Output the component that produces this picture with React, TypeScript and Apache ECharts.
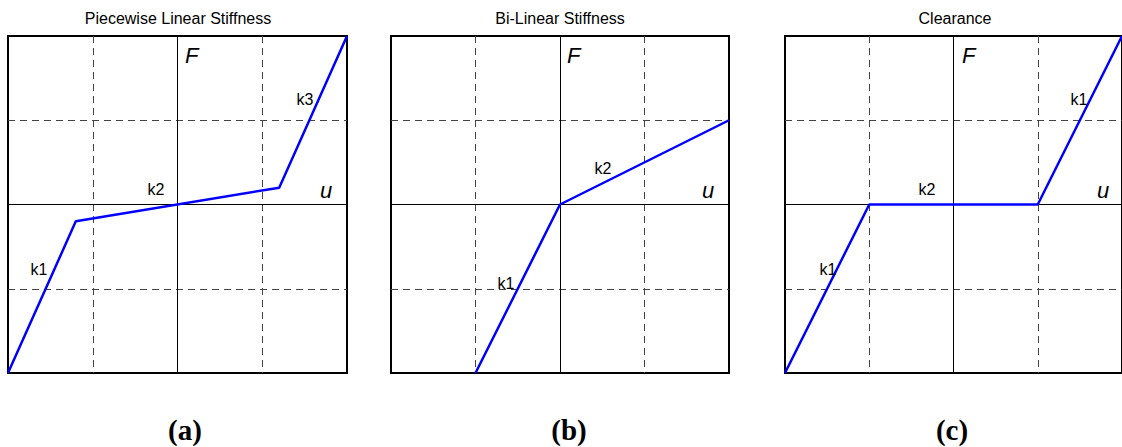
import React, { useEffect, useRef } from "react";
import * as echarts from "echarts";

// Force–displacement characteristics (normalised units, -2..2 on both axes)
const panelTitles = ["Piecewise Linear Stiffness", "Bi-Linear Stiffness", "Clearance"];
const panelTags = ["(a)", "(b)", "(c)"];

const uPiecewise = [-2, -1.2, 1.2, 2];
const fPiecewise = [-2, -0.2, 0.2, 2];

const uBilinear = [-1, 0, 2];
const fBilinear = [-2, 0, 1];

const uClearance = [-2, -1, 1, 2];
const fClearance = [-2, 0, 0, 2];

const axisTicks = [-2, -1, 0, 1, 2];

const SANS = "'Liberation Sans', Arial, sans-serif";
const SERIF = "'Liberation Serif', 'Times New Roman', serif";

const grids = [
  { left: 8, top: 36, width: 339, height: 337 },
  { left: 391, top: 36, width: 338, height: 337 },
  { left: 785, top: 36, width: 339, height: 337 },
];

function pairs(u: number[], f: number[]) {
  return u.map((x, i) => [x, f[i]]);
}

export default function App() {
  const ref = useRef<HTMLDivElement>(null);

  useEffect(() => {
    if (!ref.current) return;
    const chart = echarts.init(ref.current, null, { renderer: "svg" });

    const dashColors = axisTicks.map((t) =>
      Math.abs(t) === 2 || t === 0 ? "rgba(0,0,0,0)" : "#444"
    );

    const makeAxis = (gridIndex: number) => ({
      type: "value" as const,
      gridIndex,
      min: axisTicks[0],
      max: axisTicks[axisTicks.length - 1],
      interval: 1,
      axisLine: { show: true, onZero: true, lineStyle: { color: "#000", width: 1 } },
      axisTick: { show: false },
      axisLabel: { show: false },
      splitLine: {
        show: true,
        lineStyle: { color: dashColors, type: [7, 5], width: 1 },
      },
    });

    const series = [
      pairs(uPiecewise, fPiecewise),
      pairs(uBilinear, fBilinear),
      pairs(uClearance, fClearance),
    ].map((data, i) => ({
      type: "line" as const,
      xAxisIndex: i,
      yAxisIndex: i,
      data,
      symbol: "none",
      lineStyle: { color: "#0000ff", width: 2.5 },
      clip: true,
      z: 5,
    }));

    const text = (
      x: number,
      y: number,
      str: string,
      opts: { size?: number; italic?: boolean; bold?: boolean; family?: string; align?: string } = {}
    ) => ({
      type: "text" as const,
      x,
      y,
      z: 10,
      style: {
        text: str,
        fill: "#000",
        fontSize: opts.size ?? 16,
        fontStyle: opts.italic ? "italic" : "normal",
        fontWeight: opts.bold ? "bold" : "normal",
        fontFamily: opts.family ?? SANS,
        textAlign: opts.align ?? "center",
        textVerticalAlign: "middle",
      },
    });

    const centers = [178, 560, 955];
    const rights = [347, 729, 1124];
    const tagX = [185, 569, 952];

    const graphics: any[] = [];
    centers.forEach((cx, i) => {
      graphics.push(text(cx, 18, panelTitles[i], { size: 16 }));
      graphics.push(text(cx + 7, 55, "F", { size: 22, italic: true, align: "left" }));
      graphics.push(text(rights[i] - 21, 190, "u", { size: 22, italic: true }));
      graphics.push(text(tagX[i], 430, panelTags[i], { size: 29, bold: true, family: SERIF }));
    });
    // stiffness segment labels
    graphics.push(text(39, 269, "k1"));
    graphics.push(text(156, 189, "k2"));
    graphics.push(text(305, 99, "k3"));
    graphics.push(text(506, 283, "k1"));
    graphics.push(text(603, 168, "k2"));
    graphics.push(text(828, 269, "k1"));
    graphics.push(text(927, 189, "k2"));
    graphics.push(text(1079, 99, "k1"));

    chart.setOption({
      animation: false,
      backgroundColor: "#fff",
      grid: grids.map((g) => ({
        ...g,
        show: true,
        borderColor: "#000",
        borderWidth: 2,
        backgroundColor: "transparent",
      })),
      xAxis: grids.map((_, i) => makeAxis(i)),
      yAxis: grids.map((_, i) => makeAxis(i)),
      series,
      graphic: graphics,
    });

    return () => chart.dispose();
  }, []);

  return (
    <div
      ref={ref}
      style={{ position: "fixed", left: 0, top: 0, width: 1122, height: 447, background: "#fff" }}
    />
  );
}
